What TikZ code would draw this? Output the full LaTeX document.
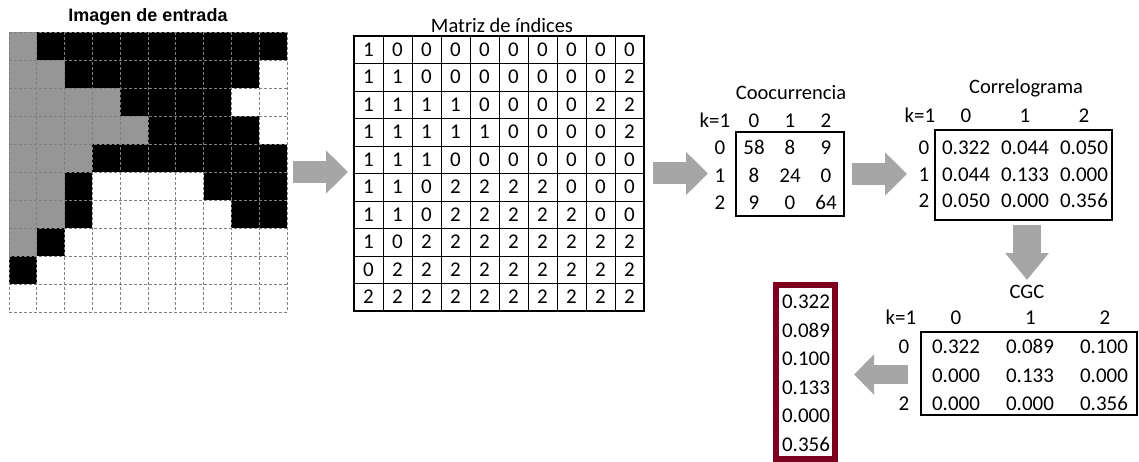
\documentclass[tikz,border=0pt]{standalone}
\usepackage{fontspec}
\setmainfont{Carlito}
\newfontfamily\headfont{Liberation Sans}
\usetikzlibrary{positioning, arrows.meta}

\definecolor{pix0}{RGB}{0,0,0}
\definecolor{pix1}{RGB}{150,150,150}
\definecolor{pix2}{RGB}{255,255,255}
\definecolor{arrowgray}{RGB}{166,166,166}
\definecolor{vecred}{RGB}{125,0,30}

\tikzset{
  title/.style={font=\fontsize{20.5}{24}\selectfont, inner sep=0pt},
  imgtitle/.style={font=\headfont\bfseries\fontsize{18}{21}\selectfont, inner sep=0pt},
  num/.style={font=\fontsize{21}{24}\selectfont, inner sep=0pt, text height=13.3pt, text depth=0pt},
  matbox/.style={draw, line width=1.6pt, inner sep=0pt, outer sep=0pt},
  blockarrow/.style={-{Triangle[length=22pt, width=42pt]}, line width=22pt, draw=arrowgray},
}

\begin{document}
\begin{tikzpicture}[x=1pt, y=-1pt]
  \useasboundingbox (0,0) rectangle (1139,462);

  % input image
  \node[imgtitle] (imgtitle) at (148,17) {Imagen de entrada};
  \node[inner sep=0pt, outer sep=0pt, minimum width=278pt, minimum height=280pt] (img) at (148,172) {};
  \def\indexrows{{1,0,0,0,0,0,0,0,0,0},{1,1,0,0,0,0,0,0,0,2},{1,1,1,1,0,0,0,0,2,2},
    {1,1,1,1,1,0,0,0,0,2},{1,1,1,0,0,0,0,0,0,0},{1,1,0,2,2,2,2,0,0,0},
    {1,1,0,2,2,2,2,2,0,0},{1,0,2,2,2,2,2,2,2,2},{0,2,2,2,2,2,2,2,2,2},
    {2,2,2,2,2,2,2,2,2,2}}
  \begin{scope}[shift={(img.north west)}]
    \foreach \rowvals [count=\r] in \indexrows
      \foreach \v [count=\c] in \rowvals
        \fill[pix\v] ({27.8*(\c-1)},{28*(\r-1)}) rectangle ++(27.8,28);
    \foreach \i in {0,...,10} {
      \draw[gray, dashed, dash pattern=on 3pt off 2pt, line width=0.8pt] ({27.8*\i},0) -- ({27.8*\i},280);
      \draw[gray, dashed, dash pattern=on 3pt off 2pt, line width=0.8pt] (0,{28*\i}) -- (278,{28*\i});
    }
  \end{scope}

  % index matrix
  \node[title] (idxtitle) at (502,25) {Matriz de índices};
  \node[matbox, minimum width=290pt, minimum height=275pt] (idx) at (499,173.5) {};
  \begin{scope}[shift={(idx.north west)}]
    \foreach \i in {1,...,9} {
      \draw[line width=0.8pt] ({29*\i},0) -- ({29*\i},275);
      \draw[line width=0.8pt] (0,{27.5*\i}) -- (290,{27.5*\i});
    }
    \foreach \rowvals [count=\r] in \indexrows
      \foreach \v [count=\c] in \rowvals
        \node[num] (idx-\r-\c) at ({29*\c-14.5},{27.5*\r-13.75}) {\v};
  \end{scope}

  % cooccurrence
  \node[title] (cooctitle) at (791,93) {Coocurrencia};
  \node[matbox, minimum width=108pt, minimum height=84pt] (cooc) at (790,174) {};
  \node[num] (cooc-k) at (715,121) {k=1};
  \foreach \c in {0,1,2} {
    \node[num] (cooc-h\c) at ({754+36*\c},121) {\c};
    \node[num] (cooc-r\c) at (720,{148+27.5*\c}) {\c};
  }
  \foreach \rowvals [count=\r] in {{58,8,9},{8,24,0},{9,0,64}}
    \foreach \v [count=\c] in \rowvals
      \node[num] (cooc-\r-\c) at ({754+36*(\c-1)},{148+27.5*(\r-1)}) {\v};

  % correlogram
  \node[title] (corrtitle) at (1026,88) {Correlograma};
  \node[matbox, minimum width=177pt, minimum height=90pt] (corr) at (1023.5,175) {};
  \node[num] (corr-k) at (920,116) {k=1};
  \foreach \c in {0,1,2} {
    \node[num] (corr-h\c) at ({966+59*\c},116) {\c};
    \node[num] (corr-r\c) at (924,{148+26.5*\c}) {\c};
  }
  \foreach \rowvals [count=\r] in {{0.322,0.044,0.050},{0.044,0.133,0.000},{0.050,0.000,0.356}}
    \foreach \v [count=\c] in \rowvals
      \node[num] (corr-\r-\c) at ({966+59*(\c-1)},{148+26.5*(\r-1)}) {\v};

  % CGC
  \node[title] (cgctitle) at (1027,292) {CGC};
  \node[matbox, minimum width=216pt, minimum height=83pt] (cgc) at (1029,373.5) {};
  \node[num] (cgc-k) at (901,318) {k=1};
  \foreach \c in {0,1,2}
    \node[num] (cgc-h\c) at ({956+74.5*\c},318) {\c};
  \node[num] (cgc-r0) at (904,347) {0};
  \node[num] (cgc-r2) at (904,404) {2};
  \foreach \rowvals [count=\r] in {{0.322,0.089,0.100},{0.000,0.133,0.000},{0.000,0.000,0.356}}
    \foreach \v [count=\c] in \rowvals
      \node[num] (cgc-\r-\c) at ({956+74*(\c-1)},{347+28.5*(\r-1)}) {\v};

  % feature vector
  \node[draw=vecred, line width=6pt, inner sep=0pt, minimum width=59pt, minimum height=174pt] (vec) at (805.5,372) {};
  \foreach \v [count=\i] in {0.322,0.089,0.100,0.133,0.000,0.356}
    \node[num] (vec-\i) at (806,{302+28.5*(\i-1)}) {\v};

  % arrows
  \draw[blockarrow, shorten <=6pt, shorten >=6pt] (img.east) -- (img.east -| idx.west);
  \draw[blockarrow, shorten <=9pt, shorten >=28pt] (idx.east) -- (idx.east -| cooc.west);
  \draw[blockarrow, shorten <=8pt, shorten >=28pt] (cooc.east) -- (cooc.east -| corr.west);
  \draw[blockarrow, line width=28pt, -{Triangle[length=27pt, width=42pt]}, shorten <=5pt, shorten >=52pt]
    ([xshift=3.5pt]corr.south) -- ([xshift=3.5pt]corr.south |- cgc.north);
  \draw[blockarrow, line width=19pt, -{Triangle[length=20pt, width=39pt]}, shorten <=13pt, shorten >=16pt]
    ([yshift=-1pt]cgc.west) -- ([yshift=-1pt]cgc.west -| vec.east);
\end{tikzpicture}
\end{document}
